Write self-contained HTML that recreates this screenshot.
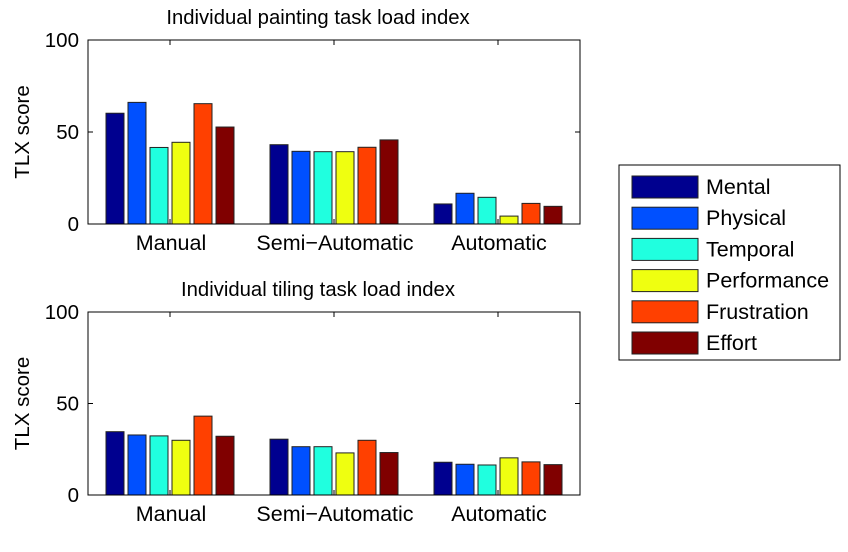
<!DOCTYPE html>
<html><head><meta charset="utf-8"><style>
body{margin:0;background:#fff;}
svg text{font-family:"Liberation Sans",Arial,sans-serif;fill:#000;}
</style></head><body>
<svg id="chart" width="848" height="547" xmlns="http://www.w3.org/2000/svg"></svg>
<script>
const categories = ["Manual","Semi\u2212Automatic","Automatic"];
const seriesNames = ["Mental","Physical","Temporal","Performance","Frustration","Effort"];
const colors = ["#00008f","#0050ff","#20ffdf","#efff10","#ff4000","#800000"];
const paintingValues = [
  [60.2,43.1,10.9],[66.1,39.5,16.7],[41.6,39.3,14.5],[44.4,39.3,4.3],[65.4,41.7,11.2],[52.7,45.7,9.6]
];
const tilingValues = [
  [34.6,30.5,17.9],[32.8,26.4,16.8],[32.3,26.4,16.4],[29.9,23.0,20.3],[43.1,29.9,18.1],[32.1,23.2,16.6]
];
const yTicks = [0,50,100];
const titles = ["Individual painting task load index","Individual tiling task load index"];

const svg = document.getElementById('chart');
const NS = "http://www.w3.org/2000/svg";
function mk(tag, attrs, parent){const e=document.createElementNS(NS,tag);for(const k in attrs)e.setAttribute(k,attrs[k]);(parent||svg).appendChild(e);return e;}

const X0=88,X1=580;
const groupCenters=[170,334,498];
const pitch=22,bw=18;
function drawPanel(top,bottom,values,title,idx){
  const g=mk('g',{});
  
  
  const y=v=>bottom-(v/100)*(bottom-top);
  values.forEach((ser,s)=>{
    ser.forEach((v,c)=>{
      const x=groupCenters[c]+(s-2.5)*pitch-bw/2;
      const r=mk('rect',{x:x,y:y(v),width:bw,height:bottom-y(v),fill:colors[s],stroke:'#222','stroke-width':1},g);
      
      
    });
  });
  const fr=mk('rect',{x:X0,y:top,width:X1-X0,height:bottom-top,fill:'none',stroke:'#000','stroke-width':1},g);
  
  
  yTicks.forEach(t=>{
    const yy=y(t);
    mk('line',{x1:X0,x2:X0+5,y1:yy,y2:yy,stroke:'#000'},g);
    mk('line',{x1:X1,x2:X1-5,y1:yy,y2:yy,stroke:'#000'},g);
    const tx=mk('text',{x:X0-9,y:yy+7,'text-anchor':'end','font-size':20.5},g);
    tx.textContent=t;
    
    
  });
  categories.forEach((c,i)=>{
    mk('line',{x1:groupCenters[i],x2:groupCenters[i],y1:top,y2:top+5,stroke:'#000'},g);
    mk('line',{x1:groupCenters[i],x2:groupCenters[i],y1:bottom,y2:bottom-5,stroke:'#000'},g);
    const tx=mk('text',{x:groupCenters[i]+1,y:bottom+26,'text-anchor':'middle','font-size':21.5},g);
    tx.textContent=c;
    
    
  });
  const tt=mk('text',{x:318,y:top-16,'text-anchor':'middle','font-size':20.3},g);
  tt.textContent=title;
  
  
  const yl=mk('text',{x:0,y:0,'text-anchor':'middle','font-size':20.5,transform:'translate(29,'+((top+bottom)/2)+') rotate(-90)'},g);
  yl.textContent='TLX score';
  
  
}
drawPanel(40,224,paintingValues,titles[0],0);
drawPanel(312,495,tilingValues,titles[1],1);

const lg=mk('g',{});


mk('rect',{x:619,y:165,width:221,height:195,fill:'#fff',stroke:'#000'},lg);
seriesNames.forEach((n,i)=>{
  const cy=187+i*31.2;
  const sw=mk('rect',{x:632,y:cy-11,width:66,height:22,fill:colors[i],stroke:'#222'},lg);
  
  
  const t=mk('text',{x:706,y:cy+7,'font-size':21.5},lg);
  t.textContent=n;
  
  
});
</script>
</body></html>
